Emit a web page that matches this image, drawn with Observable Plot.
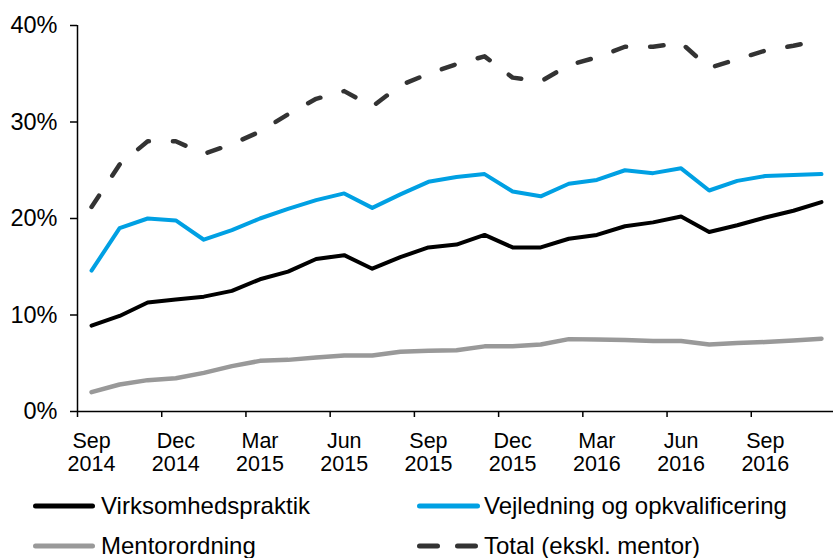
<!DOCTYPE html>
<html><head><meta charset="utf-8">
<script src="https://cdn.jsdelivr.net/npm/d3@7"></script>
<script src="https://cdn.jsdelivr.net/npm/@observablehq/plot@0.6"></script>
<style>
body{margin:0;background:#fff;font-family:"Liberation Sans",Arial,sans-serif;color:#000;}
#chart{position:relative;width:833px;height:558px;overflow:hidden;}
#chart svg.plot{display:block;}
.item{position:absolute;display:flex;align-items:center;height:30px;font-size:24px;white-space:nowrap;}
.item svg{display:block;}
</style></head><body><div id="chart"></div>
<script>
const months = ["Sep 2014","Oct 2014","Nov 2014","Dec 2014","Jan 2015","Feb 2015","Mar 2015","Apr 2015","May 2015","Jun 2015","Jul 2015","Aug 2015","Sep 2015","Oct 2015","Nov 2015","Dec 2015","Jan 2016","Feb 2016","Mar 2016","Apr 2016","May 2016","Jun 2016","Jul 2016","Aug 2016","Sep 2016","Oct 2016","Nov 2016"];
const virksomhedspraktik = [8.9,9.9,11.3,11.6,11.9,12.5,13.7,14.5,15.8,16.2,14.8,16.0,17.0,17.3,18.3,17.0,17.0,17.9,18.3,19.2,19.6,20.2,18.6,19.3,20.1,20.8,21.7];
const vejledning = [14.6,19.0,20.0,19.8,17.8,18.8,20.0,21.0,21.9,22.6,21.1,22.5,23.8,24.3,24.6,22.8,22.3,23.6,24.0,25.0,24.7,25.2,22.9,23.9,24.4,24.5,24.6];
const mentorordning = [2.0,2.8,3.25,3.45,4.0,4.7,5.25,5.35,5.6,5.8,5.8,6.2,6.3,6.35,6.75,6.75,6.95,7.5,7.45,7.4,7.3,7.3,6.95,7.1,7.2,7.35,7.55];
const total = [21.2,25.6,28.0,28.0,26.7,27.7,29.0,30.8,32.4,33.2,31.6,33.8,35.0,36.0,36.8,34.6,34.2,35.9,36.7,37.8,37.8,38.2,35.6,36.5,37.4,37.9,38.5];
const yTicks = [0,10,20,30,40];
const labelIdx = [0,3,6,9,12,15,18,21,24];
const boundaries = labelIdx.map(i => i - 0.5);

const series = [
  {name:"Virksomhedspraktik", values: virksomhedspraktik, color:"#000000", width:4, dash:null},
  {name:"Vejledning og opkvalificering", values: vejledning, color:"#00A0E3", width:4, dash:null},
  {name:"Mentorordning", values: mentorordning, color:"#999999", width:4.5, dash:null},
  {name:"Total (ekskl. mentor)", values: total, color:"#333333", width:4.5, dash:"13.5,24"}
];

const plot = Plot.plot({
  width: 833, height: 480,
  marginLeft: 77, marginRight: 0, marginTop: 25, marginBottom: 69,
  style: {fontFamily: "Liberation Sans, Arial, sans-serif", fontSize: "22px", color: "#000", background: "#fff"},
  x: {type: "linear", domain: [-0.5, 26.5], range: [77, 835], axis: null},
  y: {domain: [0, 40], range: [411, 25], axis: null},
  marks: [
    Plot.axisY({ticks: yTicks, tickFormat: d => d + "%", tickSize: 7, tickPadding: 13, fontSize: 23.5, strokeWidth: 1.5}),
    Plot.axisX({ticks: boundaries, tickSize: 6, tickFormat: () => "", strokeWidth: 1.5}),
    Plot.axisX({ticks: labelIdx, tickSize: 0, tickPadding: 20, fontSize: 21.5, lineHeight: 1.08, tickFormat: i => months[i].replace(" ", "\n")}),
    Plot.ruleX([-0.5], {y1: 0, y2: 40, stroke: "#000", strokeWidth: 1.5}),
    Plot.ruleY([0], {stroke: "#000", strokeWidth: 1.5}),
    ...series.map(s => Plot.line(s.values, {
      x: (d, i) => i, y: d => d,
      stroke: s.color, strokeWidth: s.width,
      strokeLinejoin: "round", strokeLinecap: "round",
      strokeDasharray: s.dash
    }))
  ]
});
const chart = document.getElementById("chart");
chart.appendChild(plot);

const legendPos = [
  {left: 33, top: 491}, {left: 417, top: 491},
  {left: 33, top: 531}, {left: 417, top: 531}
];
series.forEach((s, k) => {
  const div = document.createElement("div");
  div.className = "item";
  div.style.left = legendPos[k].left + "px";
  div.style.top = legendPos[k].top + "px";
  const w = k % 2 === 0 ? 62 : 63;
  const gap = k % 2 === 0 ? 6 : 4;
  div.innerHTML = `<svg width="${w}" height="10" style="margin-right:${gap}px"><line x1="2.5" x2="${w-2.5}" y1="5" y2="5" stroke="${s.color}" stroke-width="5" stroke-linecap="round" ${s.dash ? 'stroke-dasharray="18,20"' : ''}/></svg><span>${s.name}</span>`;
  chart.appendChild(div);
});
</script></body></html>
